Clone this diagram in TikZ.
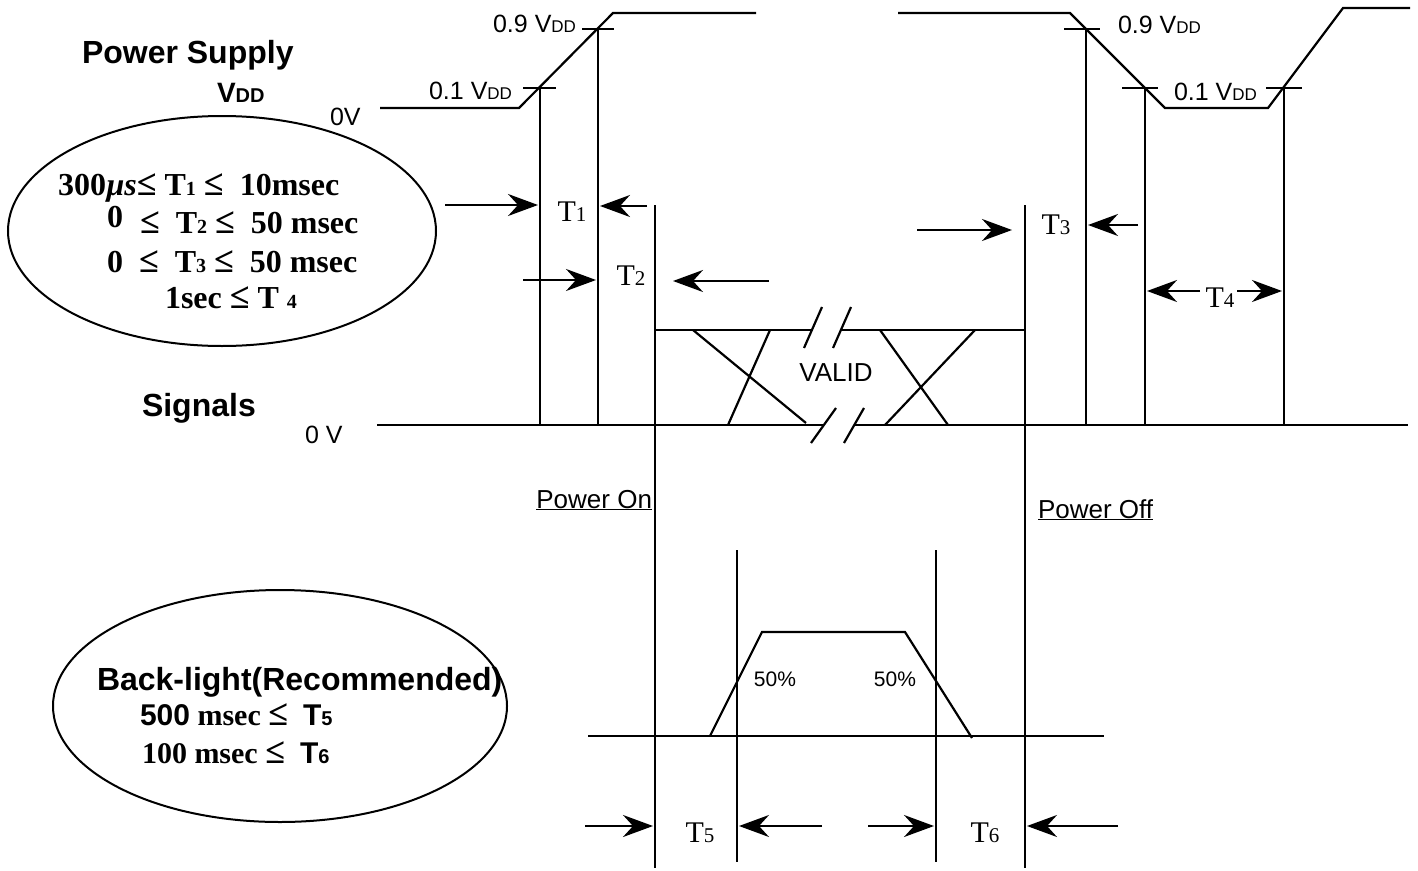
\documentclass[tikz,border=0pt]{standalone}
\usepackage{fontspec}
\usepackage{graphicx}
\setmainfont{Liberation Serif}
\setsansfont{Liberation Sans}
\usetikzlibrary{arrows.meta}
\newcommand{\fsz}[1]{\fontsize{#1}{#1}\selectfont}
\tikzset{
  wire/.style={line width=2.2pt, line join=miter},
  arr/.style={line width=2.2pt, -{Stealth[length=30pt,width=22pt,inset=10pt]}},
  txt/.style={inner sep=0pt, outer sep=0pt},
  sl/.style={txt, font=\sffamily\fsz{25}},
  tl/.style={txt, font=\rmfamily\fsz{30}},
  hd/.style={txt, font=\sffamily\bfseries\fsz{32}},
  el/.style={txt, font=\rmfamily\bfseries\fsz{32}},
}
\newcommand{\vdd}{V{\fsz{17}DD}}
\newcommand{\myle}{{\fsz{36}≤}}
\begin{document}
\begin{tikzpicture}[x=1pt,y=-1pt]
\useasboundingbox (0,0) rectangle (1418,870);

% ---------- power supply waveform ----------
\draw[wire] (380,108) -- (519,108) -- (613,13) -- (756,13);
\draw[wire] (523,88) -- (556,88);
\draw[wire] (582,29) -- (614,29);
\draw[wire] (540,88) -- (540,425);
\draw[wire] (598,29) -- (598,425);

\draw[wire] (898,13) -- (1070,13) -- (1165,108) -- (1268,108) -- (1343,8) -- (1410,8);
\draw[wire] (1064,29) -- (1100,29);
\draw[wire] (1122,88) -- (1158,88);
\draw[wire] (1266,88) -- (1302,88);
\draw[wire] (1086,29) -- (1086,425);
\draw[wire] (1145,88) -- (1145,425);
\draw[wire] (1284,88) -- (1284,425);

\node[sl, anchor=east] (l09a) at (576,24) {0.9 \vdd};
\node[sl, anchor=east] (l01a) at (512,91) {0.1 \vdd};
\node[sl, anchor=west] (l09b) at (1118,25) {0.9 \vdd};
\node[sl, anchor=west] (l01b) at (1174,92) {0.1 \vdd};

\node[hd, anchor=west] (ps) at (82,55) {Power Supply};
\node[txt, anchor=west, font=\sffamily\bfseries] (vddl) at (217,93) {{\fsz{28}V}{\fsz{20}DD}};
\node[sl, anchor=west] (zv1) at (330,117) {0V};

% ---------- ellipse 1 ----------
\draw[line width=2pt] (222,231) ellipse [x radius=214, y radius=115];
\node[el, anchor=base west] (e1) at (58,195) {300{\itshape µs}\myle\ T{\fsz{20}1}\ \myle\ \ 10msec};
\node[el, anchor=base west] (e2a) at (107,227) {0};
\node[el, anchor=base west] (e2b) at (140,233) {\myle\ \ T{\fsz{20}2}\ \myle\ \ 50 msec};
\node[el, anchor=base west] (e3) at (107,272) {0\ \ \myle\ \ T{\fsz{20}3}\ \myle\ \ 50 msec};
\node[el, anchor=base west] (e4) at (165,308) {1sec \myle\ T {\fsz{20}4}};

% ---------- signals ----------
\node[hd, anchor=west] (sig) at (142,408) {Signals};
\node[sl, anchor=west] (zv2) at (305,435) {0 V};
\draw[wire] (377,425) -- (823,425);
\draw[wire] (854,425) -- (1408,425);
\draw[wire] (655,205) -- (655,868);
\draw[wire] (1025,205) -- (1025,868);
\draw[wire] (655,330) -- (812,330);
\draw[wire] (841,330) -- (1025,330);
\draw[wire] (822,307) -- (804,348);
\draw[wire] (851,307) -- (833,348);
\draw[wire] (836,408) -- (811,443);
\draw[wire] (864,408) -- (844,443);
\draw[wire] (693,330) -- (806,423);
\draw[wire] (770,330) -- (728,425);
\draw[wire] (880,330) -- (948,425);
\draw[wire] (975,330) -- (885,425);
\node[txt, font=\sffamily\fsz{26}] (valid) at (836,373) {VALID};

% ---------- timing arrows ----------
\draw[arr] (445,205) -- (538,205);
\draw[arr] (647,206) -- (600,206);
\node[tl] (t1) at (572,212) {T{\fsz{21}1}};
\draw[arr] (523,280) -- (596,280);
\draw[arr] (769,281) -- (673,281);
\node[tl] (t2) at (631,276) {T{\fsz{21}2}};
\draw[arr] (917,230) -- (1012,230);
\draw[arr] (1138,225) -- (1088,225);
\node[tl] (t3) at (1056,225) {T{\fsz{21}3}};
\draw[arr] (1200,291) -- (1147,291);
\draw[arr] (1237,291) -- (1282,291);
\node[tl] (t4) at (1220,298) {T{\fsz{21}4}};

\node[txt, font=\sffamily\fsz{26}, anchor=base east] (pon) at (652,508) {\underline{Power On}};
\node[txt, font=\sffamily\fsz{26}, anchor=base west] (poff) at (1038,518) {\underline{Power Off}};

% ---------- back-light ----------
\draw[wire] (588,736) -- (1104,736);
\draw[wire] (737,550) -- (737,862);
\draw[wire] (936,550) -- (936,862);
\draw[wire] (710,736) -- (762,632) -- (905,632) -- (972,738);
\node[txt, font=\sffamily\fsz{21}] (p50a) at (775,679) {50\%};
\node[txt, font=\sffamily\fsz{21}] (p50b) at (895,679) {50\%};

\draw[arr] (585,826) -- (653,826);
\draw[arr] (822,826) -- (739,826);
\draw[arr] (868,826) -- (934,826);
\draw[arr] (1118,826) -- (1027,826);
\node[tl] (t5) at (700,833) {T{\fsz{21}5}};
\node[tl] (t6) at (985,833) {T{\fsz{21}6}};

\draw[line width=2pt] (280,706) ellipse [x radius=227, y radius=116];
\node[hd, anchor=base west] (bl) at (97,690) {Back-light(Recommended)};
\node[txt, anchor=base west, font=\rmfamily\bfseries\fsz{30}] (b5) at (140,725) {{\sffamily 500} msec \myle\ \ {\sffamily T{\fsz{20}5}}};
\node[txt, anchor=base west, font=\rmfamily\bfseries\fsz{30}] (b6) at (142,763) {100 msec \myle\ \ {\sffamily T{\fsz{20}6}}};
\end{tikzpicture}
\end{document}
